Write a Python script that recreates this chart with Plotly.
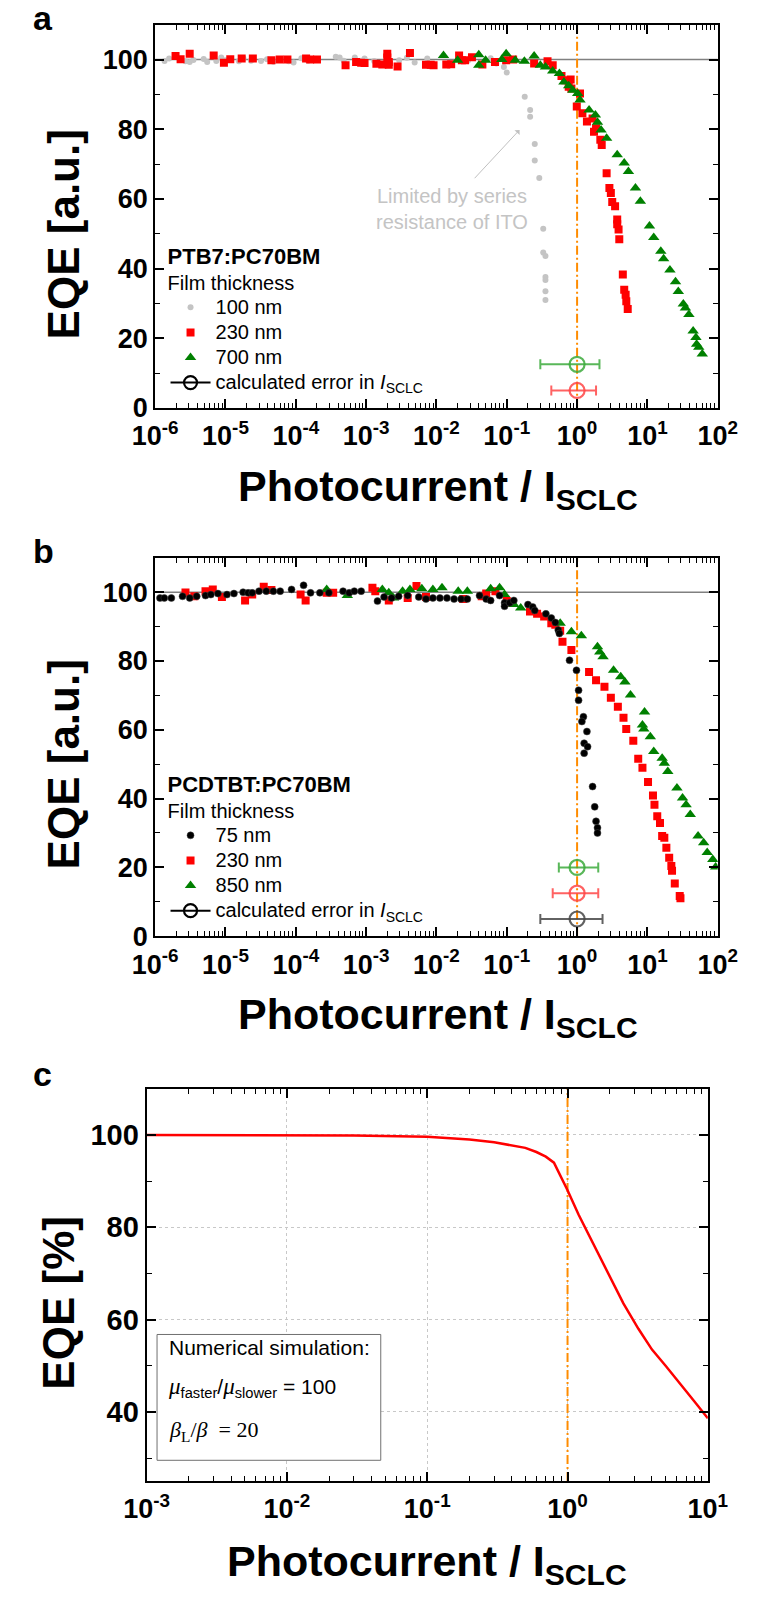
import plotly.graph_objects as go

W, H = 767, 1613
F = "Liberation Sans, Arial, sans-serif"
SERIF = "Liberation Serif, Times New Roman, serif"

# ---------------- Panel a : PTB7:PC70BM ----------------
a100_x = [1.36e-6, 1.58e-6, 2.7e-6, 3.1e-6, 3.5e-6, 4.9e-6, 5.5e-6, 7.4e-6, 8.7e-6, 1.0e-5,
          1.55e-5, 1.8e-5, 2.3e-5, 3.2e-5, 3.9e-5, 4.8e-5, 7.9e-5, 9.3e-5, 1.2e-4, 1.5e-4,
          3.7e-4, 4.2e-4, 4.8e-4, 6.9e-4, 8.5e-4, 9.5e-4, 1.3e-3, 2.95e-3, 3.8e-3, 4.9e-3,
          7.4e-3, 2.8e-2, 5.9e-2, 7.1e-2, 0.091, 0.1, 0.18, 0.215, 0.215, 0.25,
          0.25, 0.29, 0.33, 0.33, 0.355, 0.355, 0.355, 0.355, 0.355]
a100_y = [99.6, 100.3, 99.5, 99.3, 99.9, 100.2, 99.3, 99.6, 100.6, 99.8,
          99.5, 100.4, 99.7, 99.6, 100.1, 99.4, 99.5, 99.2, 100.4, 99.7,
          100.8, 100.6, 99.7, 100.6, 99.7, 100.3, 99.6, 99.8, 100.5, 99.2,
          100.3, 99.7, 100.4, 98.9, 97.9, 96.3, 89.3, 85.5, 83.6, 75.8,
          71.0, 66.0, 51.4, 44.6, 43.6, 37.6, 36.7, 33.5, 31.0]

a230_x = [1.95e-6, 2.3e-6, 3.1e-6, 6.8e-6, 9.5e-6, 1.17e-5, 1.7e-5, 2.45e-5, 4.5e-5, 5.9e-5,
          7.6e-5, 1.4e-4, 1.6e-4, 2.0e-4, 5.1e-4, 7.2e-4, 8.5e-4, 9.5e-4, 1.4e-3, 1.7e-3,
          2.0e-3, 2.0e-3, 2.1e-3, 2.1e-3, 2.8e-3, 4.2e-3, 7.1e-3, 8.3e-3, 9.1e-3, 1.38e-2,
          1.62e-2, 2.1e-2, 2.3e-2, 2.55e-2, 3.2e-2, 4.5e-2, 6.8e-2, 0.098, 0.123, 0.245,
          0.38, 0.45, 0.60, 0.68, 0.81, 0.76, 0.83, 1.10, 0.99, 1.19,
          1.38, 1.66, 1.74, 1.86, 2.14, 2.24, 2.63, 2.88, 3.02, 3.16,
          3.47, 3.72, 3.89, 3.72, 3.98, 4.47, 4.68, 4.90, 5.01, 5.25]
a230_y = [101.0, 100.1, 101.7, 101.2, 99.1, 100.1, 100.3, 100.3, 99.8, 100.0,
          100.0, 100.3, 100.0, 100.0, 98.4, 99.3, 99.1, 99.0, 98.8, 98.6,
          100.6, 101.7, 99.3, 98.5, 98.0, 101.9, 98.5, 98.5, 98.4, 98.6,
          98.7, 101.2, 99.8, 99.8, 100.7, 98.6, 99.3, 99.8, 100.0, 98.9,
          99.5, 98.4, 95.3, 94.1, 94.3, 92.2, 91.7, 90.3, 86.5, 84.6,
          82.2, 83.1, 79.3, 80.3, 77.0, 75.5, 67.4, 63.1, 61.7, 59.1,
          57.9, 54.1, 51.2, 52.7, 48.4, 38.3, 33.9, 32.5, 30.6, 28.4]

a700_x = [0.0126, 0.02, 0.04, 0.04, 0.05, 0.085, 0.098, 0.132, 0.178, 0.245,
          0.30, 0.355, 0.45, 0.56, 0.65, 0.76, 0.87, 1.02, 1.10, 1.48,
          1.82, 1.95, 2.19, 2.63, 3.72, 4.68, 5.37, 6.76, 7.94, 10.7,
          12.3, 15.5, 17.0, 20.9, 25.1, 27.5, 32.4, 34.7, 38.9, 44.7,
          49.0, 50.1, 53.7, 60.3]
a700_y = [101.2, 99.8, 101.4, 98.4, 99.8, 100.0, 101.7, 99.8, 99.5, 101.0,
          98.4, 97.9, 96.7, 96.0, 93.6, 92.5, 91.2, 90.3, 88.4, 85.5,
          84.1, 82.0, 79.8, 77.4, 72.7, 70.3, 67.9, 63.1, 59.3, 52.2,
          48.9, 45.0, 42.8, 39.6, 36.2, 33.4, 29.8, 28.7, 26.8, 22.1,
          20.2, 18.3, 17.4, 15.5]

# error markers (x = 1, asymmetric error in I_SCLC)
a_err_y = [12.5, 5.0]
a_err_plus = [1.08, 0.86]
a_err_minus = [0.70, 0.57]
a_err_colors = ["rgba(60,170,60,0.85)", "rgba(255,70,70,0.85)"]

# ---------------- Panel b : PCDTBT:PC70BM ----------------
b75_x = [1.17e-6, 1.35e-6, 1.7e-6, 2.45e-6, 3.1e-6, 3.9e-6, 5.2e-6, 6.2e-6, 7.8e-6, 1.05e-5,
         1.32e-5, 1.78e-5, 2.1e-5, 2.4e-5, 3.0e-5, 3.8e-5, 4.8e-5, 6.0e-5, 8.7e-5, 1.29e-4,
         1.62e-4, 2.2e-4, 2.95e-4, 4.7e-4, 5.75e-4, 6.8e-4, 8.5e-4, 1.45e-3, 1.8e-3, 2.3e-3,
         2.9e-3, 3.9e-3, 5.6e-3, 7.1e-3, 8.9e-3, 1.12e-2, 1.41e-2, 1.78e-2, 2.24e-2, 2.75e-2,
         4.1e-2, 5.1e-2, 5.9e-2, 7.9e-2, 9.3e-2, 0.093, 0.11, 0.126, 0.2, 0.234,
         0.25, 0.36, 0.43, 0.49, 0.54, 0.56, 0.78, 0.98, 1.05, 1.05,
         1.23, 1.17, 1.38, 1.26, 1.41, 1.26, 1.66, 1.78, 1.86, 1.95, 1.95]
b75_y = [98.3, 98.3, 98.3, 98.8, 98.3, 98.8, 99.0, 99.3, 99.6, 99.3,
         99.6, 100.0, 99.8, 99.8, 100.3, 100.3, 100.3, 100.3, 100.8, 102.0,
         99.8, 99.8, 99.8, 100.3, 99.8, 100.3, 100.3, 97.4, 98.6, 98.3,
         98.8, 99.0, 98.6, 98.0, 98.3, 98.3, 98.3, 98.0, 98.0, 98.0,
         99.0, 98.0, 97.6, 99.0, 96.9, 95.9, 96.9, 97.6, 96.4, 95.7,
         94.7, 93.7, 92.5, 91.2, 89.0, 88.0, 80.2, 77.3, 71.5, 68.6,
         63.8, 62.4, 59.5, 56.1, 55.1, 53.2, 43.5, 37.6, 33.4, 31.5, 30.0]

b230_x = [2.7e-6, 3.6e-6, 5.2e-6, 6.6e-6, 8.9e-6, 1.9e-5, 2.4e-5, 3.5e-5, 4.5e-5, 1.17e-4,
          1.38e-4, 2.75e-4, 3.4e-4, 1.23e-3, 1.35e-3, 2.1e-3, 3.9e-3, 5.2e-3, 7.1e-3, 2.4e-2,
          4.4e-2, 5.1e-2, 6.9e-2, 0.1, 0.117, 0.214, 0.27, 0.34, 0.43, 0.49,
          0.575, 0.62, 0.83, 1.48, 1.86, 2.45, 3.02, 3.8, 4.57, 5.0,
          6.3, 7.4, 8.5, 10.2, 12.0, 12.6, 13.8, 15.1, 16.2, 17.4,
          18.6, 20.4, 21.9, 22.4, 24.5, 28.8, 29.5]
b230_y = [99.9, 98.8, 100.3, 100.8, 98.6, 97.6, 99.3, 101.6, 100.6, 99.3,
          97.6, 99.8, 99.8, 101.3, 100.3, 97.6, 98.3, 101.8, 98.6, 98.0,
          98.8, 99.6, 100.3, 97.4, 96.9, 94.4, 93.7, 92.9, 91.0, 90.5,
          88.8, 85.6, 83.2, 76.8, 74.4, 72.5, 69.3, 66.7, 63.5, 60.2,
          56.8, 51.6, 49.0, 44.8, 40.9, 38.2, 34.9, 32.9, 29.1, 28.6,
          25.7, 22.8, 20.4, 19.0, 15.3, 11.7, 11.0]

b850_x = [2.75e-4, 5.4e-4, 1.7e-3, 2.1e-3, 2.45e-3, 3.3e-3, 4.2e-3, 6.2e-3, 8.9e-3, 1.2e-2,
          2.04e-2, 2.75e-2, 5.9e-2, 7.9e-2, 9.3e-2, 0.126, 0.158, 0.575, 0.83, 1.15,
          1.95, 2.1, 2.34, 3.3, 4.17, 4.79, 5.75, 9.1, 8.5, 8.9,
          11.0, 12.3, 16.2, 17.4, 19.5, 26.3, 31.6, 35.5, 40.7, 52.5,
          63.1, 70.8, 85.1, 93.3]
b850_y = [100.8, 99.0, 100.8, 99.8, 98.3, 100.3, 100.8, 101.0, 100.8, 101.3,
          100.3, 100.3, 101.0, 101.3, 99.3, 96.4, 95.4, 91.0, 88.5, 87.3,
          84.1, 82.6, 81.2, 77.3, 75.4, 73.9, 70.1, 65.2, 61.4, 60.2,
          58.0, 53.7, 51.7, 50.3, 47.9, 43.1, 40.2, 38.2, 35.4, 29.1,
          27.2, 24.3, 22.3, 20.1]

b_err_y = [20.0, 12.5, 5.0]
b_err_plus = [1.0, 1.0, 1.3]
b_err_minus = [0.45, 0.55, 0.70]
b_err_colors = ["rgba(60,170,60,0.85)", "rgba(255,70,70,0.85)", "rgba(70,70,70,0.85)"]

# ---------------- Panel c : simulation ----------------
c_x = [0.001, 0.003, 0.01, 0.03, 0.1, 0.2, 0.3, 0.4, 0.5, 0.6, 0.7, 0.8, 0.9, 1.0,
       1.2, 1.5, 2.0, 2.5, 3.2, 4.0, 5.0, 6.3, 8.0, 10.0]
c_y = [100, 100, 100, 99.9, 99.6, 99.0, 98.4, 97.8, 97.2, 96.3, 95.3, 94.0, 91.0, 88.0,
       82.7, 76.8, 69.5, 63.5, 58.0, 53.5, 50.0, 46.3, 42.3, 38.6]

# tick labels
ab_tickvals = [1e-6, 1e-5, 1e-4, 1e-3, 1e-2, 1e-1, 1e0, 1e1, 1e2]
ab_ticktext = ["10<sup>-6</sup>", "10<sup>-5</sup>", "10<sup>-4</sup>", "10<sup>-3</sup>",
               "10<sup>-2</sup>", "10<sup>-1</sup>", "10<sup>0</sup>", "10<sup>1</sup>", "10<sup>2</sup>"]
c_tickvals = [1e-3, 1e-2, 1e-1, 1e0, 1e1]
c_ticktext = ["10<sup>-3</sup>", "10<sup>-2</sup>", "10<sup>-1</sup>", "10<sup>0</sup>", "10<sup>1</sup>"]

ORANGE = "#ff8c00"
GRAY_PT = "#c4c4c4"


def px_x(p):
    return p / W


def px_y(p):
    return 1 - p / H


def big(s):
    return "<span style='font-size:20px'>" + s + "</span>"


fig = go.Figure()

# ---- panel a traces
fig.add_trace(go.Scatter(x=[1e-6, 1e2], y=[100, 100], mode="lines", line=dict(color="#808080", width=1.5),
                         showlegend=False, xaxis="x", yaxis="y", hoverinfo="skip"))
fig.add_trace(go.Scatter(x=[1, 1], y=[0, 110], mode="lines",
                         line=dict(color=ORANGE, width=2, dash="9px,3px,2px,3px"),
                         showlegend=False, xaxis="x", yaxis="y"))
fig.add_trace(go.Scatter(x=a100_x, y=a100_y, mode="markers", name=big("100 nm"),
                         marker=dict(symbol="circle", size=6, color=GRAY_PT),
                         xaxis="x", yaxis="y", legend="legend"))
fig.add_trace(go.Scatter(x=a230_x, y=a230_y, mode="markers", name=big("230 nm"),
                         marker=dict(symbol="square", size=8, color="#ff0000"),
                         xaxis="x", yaxis="y", legend="legend"))
fig.add_trace(go.Scatter(x=a700_x, y=a700_y, mode="markers", name=big("700 nm"),
                         marker=dict(symbol="triangle-up", size=10, color="#008000"),
                         xaxis="x", yaxis="y", legend="legend"))
for yv, p, m, c in zip(a_err_y, a_err_plus, a_err_minus, a_err_colors):
    fig.add_trace(go.Scatter(x=[1], y=[yv], mode="markers",
                             marker=dict(symbol="circle-open", size=15, color=c, line=dict(width=2.2, color=c)),
                             error_x=dict(type="data", symmetric=False, array=[p], arrayminus=[m],
                                          color=c, thickness=2, width=5),
                             showlegend=False, xaxis="x", yaxis="y"))
fig.add_trace(go.Scatter(x=[None], y=[None], mode="lines+markers",
                         name=big("calculated error in <i>I</i><sub>SCLC</sub>"),
                         line=dict(color="black", width=2),
                         marker=dict(symbol="circle-open", size=13, color="black", line=dict(width=2.2)),
                         xaxis="x", yaxis="y", legend="legend"))

# ---- panel b traces
fig.add_trace(go.Scatter(x=[1e-6, 1e2], y=[100, 100], mode="lines", line=dict(color="#808080", width=1.5),
                         showlegend=False, xaxis="x2", yaxis="y2", hoverinfo="skip"))
fig.add_trace(go.Scatter(x=[1, 1], y=[0, 110], mode="lines",
                         line=dict(color=ORANGE, width=2, dash="9px,3px,2px,3px"),
                         showlegend=False, xaxis="x2", yaxis="y2"))
fig.add_trace(go.Scatter(x=b230_x, y=b230_y, mode="markers", name=big("230 nm"),
                         marker=dict(symbol="square", size=8, color="#ff0000"),
                         xaxis="x2", yaxis="y2", legend="legend2", legendrank=2))
fig.add_trace(go.Scatter(x=b850_x, y=b850_y, mode="markers", name=big("850 nm"),
                         marker=dict(symbol="triangle-up", size=10, color="#008000"),
                         xaxis="x2", yaxis="y2", legend="legend2", legendrank=3))
fig.add_trace(go.Scatter(x=b75_x, y=b75_y, mode="markers", name=big("75 nm"),
                         marker=dict(symbol="circle", size=7, color="black",
                                     line=dict(width=0.5, color="#444")),
                         xaxis="x2", yaxis="y2", legend="legend2", legendrank=1))
for yv, p, m, c in zip(b_err_y, b_err_plus, b_err_minus, b_err_colors):
    fig.add_trace(go.Scatter(x=[1], y=[yv], mode="markers",
                             marker=dict(symbol="circle-open", size=15, color=c, line=dict(width=2.2, color=c)),
                             error_x=dict(type="data", symmetric=False, array=[p], arrayminus=[m],
                                          color=c, thickness=2, width=5),
                             showlegend=False, xaxis="x2", yaxis="y2"))
fig.add_trace(go.Scatter(x=[None], y=[None], mode="lines+markers",
                         name=big("calculated error in <i>I</i><sub>SCLC</sub>"),
                         line=dict(color="black", width=2),
                         marker=dict(symbol="circle-open", size=13, color="black", line=dict(width=2.2)),
                         xaxis="x2", yaxis="y2", legend="legend2", legendrank=4))

# ---- panel c traces
fig.add_trace(go.Scatter(x=[1, 1], y=[25, 110], mode="lines",
                         line=dict(color=ORANGE, width=2, dash="9px,3px,2px,3px"),
                         showlegend=False, xaxis="x3", yaxis="y3"))
fig.add_trace(go.Scatter(x=c_x, y=c_y, mode="lines", line=dict(color="#ff0000", width=2.5),
                         showlegend=False, xaxis="x3", yaxis="y3"))


def minor_vals(lo, hi):
    vals = []
    for e in range(lo, hi):
        for k in range(2, 10):
            vals.append(k * 10.0 ** e)
    return vals


def xax(domain, rng, tv, tt, anchor, lo, hi, grid=False):
    return dict(type="log", domain=domain, range=rng, anchor=anchor,
                tickmode="array", tickvals=tv, ticktext=tt,
                ticks="inside", ticklen=9, tickwidth=1.8, tickcolor="black",
                showline=True, linecolor="black", linewidth=2, mirror="ticks",
                showgrid=grid, gridcolor="#c8c8c8", griddash="dot", gridwidth=1,
                zeroline=False, ticklabelstandoff=3,
                tickfont=dict(family=F, size=27, color="black", weight="bold"),
                minor=dict(tickmode="array", tickvals=minor_vals(lo, hi), ticks="inside",
                           ticklen=5, tickwidth=1.3, tickcolor="black", showgrid=False))


def yax(domain, rng, tv, anchor, grid=False, size=27):
    return dict(domain=domain, range=rng, anchor=anchor,
                tickmode="array", tickvals=tv, ticktext=[str(v) for v in tv],
                ticks="inside", ticklen=9, tickwidth=1.8, tickcolor="black",
                showline=True, linecolor="black", linewidth=2, mirror="ticks",
                showgrid=grid, gridcolor="#c8c8c8", griddash="dot", gridwidth=1,
                zeroline=False,
                tickfont=dict(family=F, size=size, color="black", weight="bold"),
                minor=dict(dtick=10, tick0=0, ticks="inside", ticklen=5, tickwidth=1.3,
                           tickcolor="black", showgrid=False))


dom_ab_x = [px_x(140), px_x(736)]
fig.update_layout(
    xaxis=xax(dom_ab_x, [-6, 2], ab_tickvals, ab_ticktext, "y", -6, 2),
    yaxis=yax([px_y(411.7), px_y(25)], [0, 110], [0, 20, 40, 60, 80, 100], "x"),
    xaxis2=xax(dom_ab_x, [-6, 2], ab_tickvals, ab_ticktext, "y2", -6, 2),
    yaxis2=yax([px_y(945), px_y(563)], [0, 110], [0, 20, 40, 60, 80, 100], "x2"),
    xaxis3=xax([px_x(131), px_x(725.5)], [-3, 1], c_tickvals, c_ticktext, "y3", -3, 1, grid=True),
    yaxis3=yax([px_y(1495), px_y(1099)], [25, 110], [40, 60, 80, 100], "x3", grid=True, size=29),
)

leg_common = dict(xanchor="left", yanchor="top", bgcolor="rgba(0,0,0,0)",
                  font=dict(family=F, size=17, color="black"), tracegroupgap=0,
                  itemwidth=40, itemclick=False, itemdoubleclick=False)
fig.update_layout(
    legend=dict(x=px_x(151), y=px_y(240),
                title=dict(text="<span style='font-size:22px'><b>PTB7:PC70BM</b></span><br>Film thickness",
                           font=dict(family=F, size=20, color="black")), **leg_common),
    legend2=dict(x=px_x(151), y=px_y(773),
                 title=dict(text="<span style='font-size:22px'><b>PCDTBT:PC70BM</b></span><br>Film thickness",
                            font=dict(family=F, size=20, color="black")), **leg_common),
)

ann = []
# panel letters
for letter, yc in [("a", 18), ("b", 556), ("c", 1084)]:
    ann.append(dict(text=letter, x=px_x(8), y=px_y(yc), xref="paper", yref="paper",
                    xanchor="left", yanchor="middle", showarrow=False,
                    font=dict(family=F, size=34, color="black", weight="bold")))
# axis titles
xtitle = "Photocurrent / I<sub>SCLC</sub>"
for xc, yc in [(440, 494), (440, 1027), (428, 1579)]:
    ann.append(dict(text=xtitle, x=px_x(xc), y=px_y(yc), xref="paper", yref="paper",
                    xanchor="center", yanchor="middle", showarrow=False,
                    font=dict(family=F, size=43, color="black", weight="bold")))
for txt, xc, yc in [("EQE [a.u.]", 43, 237), ("EQE [a.u.]", 43, 772), ("EQE [%]", 38, 1315)]:
    ann.append(dict(text=txt, x=px_x(xc), y=px_y(yc), xref="paper", yref="paper",
                    xanchor="center", yanchor="middle", textangle=-90, showarrow=False,
                    font=dict(family=F, size=44, color="black", weight="bold")))
# ITO note with arrow
ann.append(dict(text="", x=-0.819, y=79.8, ax=-1.477, ay=65.5, xref="x", yref="y",
                axref="x", ayref="y", showarrow=True, arrowhead=1, arrowsize=1.2,
                arrowwidth=1, arrowcolor="#c0c0c0"))
ann.append(dict(text="Limited by series<br>resistance of ITO", x=px_x(455), y=px_y(211),
                xref="paper", yref="paper", xanchor="center", yanchor="middle", showarrow=False,
                font=dict(family=F, size=20, color="#c4c4c4")))
# simulation box text
ann.append(dict(text="Numerical simulation:", x=px_x(153), y=px_y(1360), xref="paper", yref="paper",
                xanchor="left", yanchor="middle", showarrow=False,
                font=dict(family=F, size=21, color="black")))
ann.append(dict(text=("<span style='font-family:Liberation Serif;font-size:23px'><i>μ</i></span><sub>faster</sub>/"
                      "<span style='font-family:Liberation Serif;font-size:23px'><i>μ</i></span><sub>slower</sub> = 100"),
                x=px_x(152), y=px_y(1401), xref="paper", yref="paper",
                xanchor="left", yanchor="middle", showarrow=False,
                font=dict(family=F, size=21, color="black")))
ann.append(dict(text="<i>β</i><sub>L</sub>/<i>β</i>  = 20",
                x=px_x(153), y=px_y(1444), xref="paper", yref="paper",
                xanchor="left", yanchor="middle", showarrow=False,
                font=dict(family=SERIF, size=22, color="black")))

shapes = [dict(type="rect", xref="paper", yref="paper", x0=px_x(142), x1=px_x(379),
               y0=px_y(1474), y1=px_y(1347), line=dict(color="#707070", width=1),
               fillcolor="white", layer="above")]

fig.update_layout(annotations=ann, shapes=shapes)
fig.update_layout(width=W, height=H, margin=dict(l=0, r=0, t=0, b=0),
                  paper_bgcolor="white", plot_bgcolor="white", showlegend=True,
                  font=dict(family=F, color="black"))

fig.write_html("out.html", config={"displayModeBar": False},
               post_script="document.body.style.margin='0px';")
